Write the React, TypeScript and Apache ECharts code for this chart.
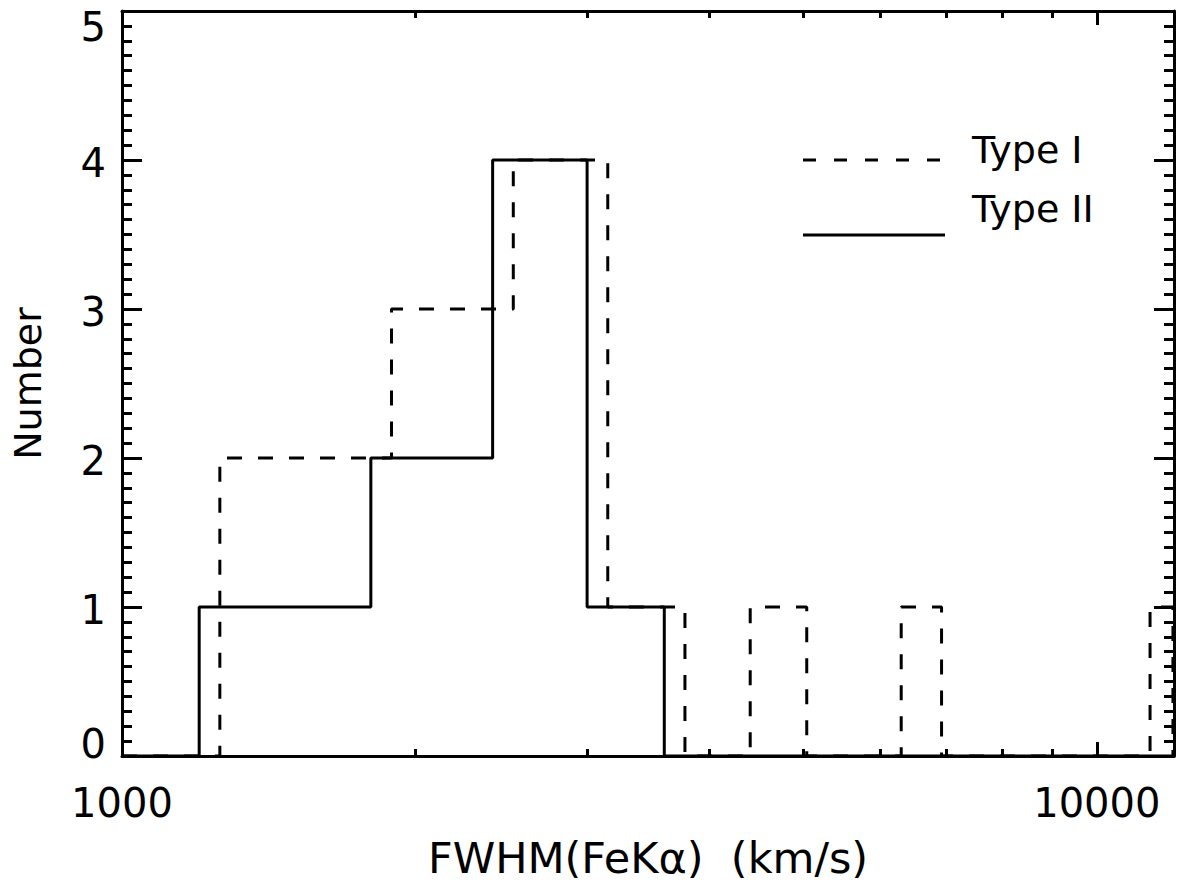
import React, { useEffect, useRef } from "react";
import * as echarts from "echarts";

// Histogram bin edges (km/s) and counts
const typeIEdges = [1260, 1890, 2520, 3150, 3780, 4410, 5040, 5670, 6300, 6930, 7560, 8190, 8820, 9450, 10080, 10710, 11340, 11970];
const typeICounts = [2, 3, 4, 1, 0, 1, 0, 0, 1, 0, 0, 0, 0, 0, 0, 0, 1];
const typeIIEdges = [1200, 1800, 2400, 3000, 3600];
const typeIICounts = [1, 2, 4, 1];

const xMin = 1000;
const xMax = 12000;
const xMajorTicks = [1000, 10000];
const xMinorTicks = [2000, 3000, 4000, 5000, 6000, 7000, 8000, 9000];
const yMin = 0;
const yMax = 5;

const FONT = "DejaVu Sans";

function stepPoints(edges: number[], counts: number[]): number[][] {
  const pts: number[][] = [[xMin, 0]];
  for (let i = 0; i < counts.length; i++) pts.push([edges[i], counts[i]]);
  pts.push([edges[edges.length - 1], 0]);
  pts.push([xMax, 0]);
  return pts;
}

export default function App() {
  const ref = useRef<HTMLDivElement>(null);
  useEffect(() => {
    if (!ref.current) return;
    const chart = echarts.init(ref.current, undefined, { renderer: "svg" });
    const axisLine = { show: true, lineStyle: { color: "#000", width: 3 } };
    const baseX = (position: "top" | "bottom") => ({
      type: "log" as const,
      logBase: 10,
      min: xMin,
      max: xMax,
      position,
      splitLine: { show: false },
      axisLine: { show: false },
      axisLabel: { show: false },
    });
    const labelStyle = { color: "#000", fontFamily: FONT, fontSize: 40 };
    const option: any = {
      animation: false,
      backgroundColor: "#fff",
      grid: { left: 122, right: 7, top: 11, bottom: 134, containLabel: false, outerBoundsMode: "none" },
      xAxis: [
        {
          ...baseX("bottom"),
          axisLine,
          axisTick: { show: true, inside: true, length: 14, customValues: xMajorTicks, lineStyle: { color: "#000", width: 3 } },
          axisLabel: {
            show: true,
            customValues: xMajorTicks,
            ...labelStyle,
            margin: 27,
            formatter: (v: number) => String(Math.round(v)),
          },
          name: "FWHM(FeKα)  (km/s)",
          nameLocation: "middle",
          nameGap: 80,
          nameTextStyle: { color: "#000", fontFamily: FONT, fontSize: 43 },
        },
        {
          ...baseX("bottom"),
          axisTick: { show: true, inside: true, length: 7, customValues: xMinorTicks, lineStyle: { color: "#000", width: 3 } },
        },
        {
          ...baseX("top"),
          axisLine,
          axisTick: { show: true, inside: true, length: 14, customValues: xMajorTicks, lineStyle: { color: "#000", width: 3 } },
        },
        {
          ...baseX("top"),
          axisTick: { show: true, inside: true, length: 7, customValues: xMinorTicks, lineStyle: { color: "#000", width: 3 } },
        },
      ],
      yAxis: [
        {
          type: "value",
          min: yMin,
          max: yMax,
          interval: 1,
          position: "left",
          splitLine: { show: false },
          axisLine,
          axisTick: { show: true, inside: true, length: 20, lineStyle: { color: "#000", width: 3 } },
          minorTick: { show: true, splitNumber: 10, length: 10, lineStyle: { color: "#000", width: 3 } },
          axisLabel: {
            ...labelStyle,
            margin: 16,
            formatter: (v: number) => (v === yMin ? `{lo|${v}}` : v === yMax ? `{hi|${v}}` : `{n|${v}}`),
            rich: {
              lo: { ...labelStyle, padding: [0, 0, 25, 0] },
              hi: { ...labelStyle, padding: [31, 0, 0, 0] },
              n: { ...labelStyle, padding: [5, 0, 0, 0] },
            },
          },
          name: "Number",
          nameLocation: "middle",
          nameGap: 75,
          nameTextStyle: { color: "#000", fontFamily: FONT, fontSize: 38 },
        },
        {
          type: "value",
          min: yMin,
          max: yMax,
          interval: 1,
          position: "right",
          splitLine: { show: false },
          axisLine,
          axisTick: { show: true, inside: true, length: 20, lineStyle: { color: "#000", width: 3 } },
          minorTick: { show: true, splitNumber: 10, length: 10, lineStyle: { color: "#000", width: 3 } },
          axisLabel: { show: false },
        },
      ],
      series: [
        {
          name: "Type I",
          type: "line",
          xAxisIndex: 0,
          yAxisIndex: 0,
          step: "end",
          symbol: "none",
          data: stepPoints(typeIEdges, typeICounts),
          lineStyle: { color: "#000", width: 3, type: [15, 16] },
        },
        {
          name: "Type II",
          type: "line",
          xAxisIndex: 0,
          yAxisIndex: 0,
          step: "end",
          symbol: "none",
          data: stepPoints(typeIIEdges, typeIICounts),
          lineStyle: { color: "#000", width: 3 },
        },
      ],
      graphic: [
        {
          type: "line",
          shape: { x1: 803, y1: 160, x2: 945, y2: 160 },
          style: { stroke: "#000", lineWidth: 3, lineDash: [13, 18] },
        },
        {
          type: "text",
          x: 972,
          y: 150,
          style: { text: "Type I", fill: "#000", font: `38px "${FONT}"`, verticalAlign: "middle", align: "left" },
        },
        {
          type: "line",
          shape: { x1: 803, y1: 235, x2: 945, y2: 235 },
          style: { stroke: "#000", lineWidth: 3 },
        },
        {
          type: "text",
          x: 972,
          y: 209,
          style: { text: "Type II", fill: "#000", font: `38px "${FONT}"`, verticalAlign: "middle", align: "left" },
        },
      ],
    };
    chart.setOption(option);
    return () => chart.dispose();
  }, []);
  return (
    <div
      ref={ref}
      style={{ position: "absolute", left: 0, top: 0, width: 1181, height: 890, background: "#fff" }}
    />
  );
}
